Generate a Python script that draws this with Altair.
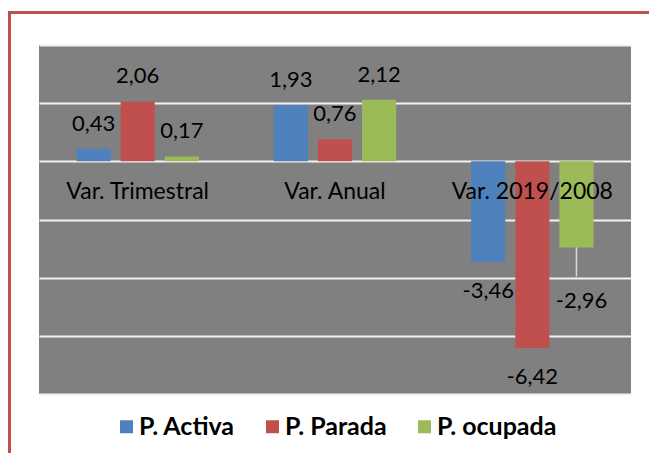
import altair as alt
import pandas as pd

categories = ["Var. Trimestral", "Var. Anual", "Var. 2019/2008"]
series = ["P. Activa", "P. Parada", "P. ocupada"]
activa = [0.43, 1.93, -3.46]
parada = [2.06, 0.76, -6.42]
ocupada = [0.17, 2.12, -2.96]
colors = ["#4F81BD", "#C0504D", "#9BBB59"]

rows = []
for i, c in enumerate(categories):
    for s, vals in zip(series, [activa, parada, ocupada]):
        rows.append({"cat": c, "serie": s, "v": vals[i]})
df = pd.DataFrame(rows)

FONT = "Lato"

x = alt.X("cat:N", sort=categories, axis=None,
          scale=alt.Scale(paddingInner=0, paddingOuter=0))
xo = alt.XOffset("serie:N", sort=series,
                 scale=alt.Scale(domain=series, paddingInner=0.227, paddingOuter=0.85))
yscale = alt.Scale(domain=[-8, 4], nice=False, zero=False)

base = alt.Chart(df)

bars = base.mark_bar().encode(
    x=x, xOffset=xo,
    y=alt.Y("v:Q", scale=yscale,
            axis=alt.Axis(values=[-8, -6, -4, -2, 0, 2, 4], labels=False, ticks=False,
                          domain=False, title=None, grid=True, gridColor="#F2F2F2",
                          gridWidth=2)),
    y2=alt.datum(0),
    color=alt.Color("serie:N", sort=series,
                    scale=alt.Scale(domain=series, range=colors),
                    legend=alt.Legend(title=None, orient="none", direction="horizontal",
                                      legendX=75, legendY=369, symbolType="square",
                                      symbolSize=169, symbolStrokeWidth=0,
                                      labelFont=FONT, labelFontSize=25,
                                      labelFontWeight="bold", labelColor="#000000",
                                      columnPadding=25, symbolOffset=0, labelOffset=0)),
)

lab = base.transform_calculate(
    lbl="(datum.v < 0 ? '-' : '') + replace(format(abs(datum.v), '.2f'), '.', ',')"
)
special = "datum.cat == 'Var. 2019/2008' && datum.serie == 'P. ocupada'"

pos_labels = lab.transform_filter("datum.v >= 0").mark_text(
    font=FONT, fontSize=22, color="#000000", baseline="middle", dy=-25
).encode(x=x, xOffset=xo, y=alt.Y("v:Q", scale=yscale), text="lbl:N")

neg_labels = lab.transform_filter("datum.v < 0 && !(" + special + ")").mark_text(
    font=FONT, fontSize=22, color="#000000", baseline="middle", dy=29
).encode(x=x, xOffset=xo, y=alt.Y("v:Q", scale=yscale), text="lbl:N")

spec_label = lab.transform_filter(special).mark_text(
    font=FONT, fontSize=22, color="#000000", baseline="middle", dy=54, dx=5
).encode(x=x, xOffset=xo, y=alt.Y("v:Q", scale=yscale), text="lbl:N")

leader = base.transform_filter(special).transform_calculate(
    v2="datum.v - 1.0"
).mark_rule(color="#D9D9D9", strokeWidth=1.5).encode(
    x=x, xOffset=xo, y=alt.Y("v:Q", scale=yscale), y2="v2:Q"
)

cat_df = pd.DataFrame({"cat": categories})
cat_labels = alt.Chart(cat_df).mark_text(
    font=FONT, fontSize=23, color="#000000", baseline="middle", dy=31
).encode(x=x, y=alt.datum(0, scale=yscale), text="cat:N")

frame_top = alt.Chart(alt.Data(values=[{}])).mark_rule(
    color="#C0504D", strokeWidth=3
).encode(x=alt.value(-31), x2=alt.value(620), y=alt.value(-32.5))
frame_left = alt.Chart(alt.Data(values=[{}])).mark_rule(
    color="#C0504D", strokeWidth=3
).encode(x=alt.value(-29.5), y=alt.value(-34), y2=alt.value(420))

chart = alt.layer(
    bars, cat_labels, pos_labels, neg_labels, spec_label, leader, frame_top, frame_left
).properties(
    width=592, height=349,
    autosize=alt.AutoSizeParams(type="none"),
    padding={"left": 31, "top": 37, "right": 18, "bottom": 59},
    background="#FFFFFF",
).configure_view(fill="#808080", stroke=None)

chart.save("out.html", embed_options={"renderer": "svg", "actions": False})
